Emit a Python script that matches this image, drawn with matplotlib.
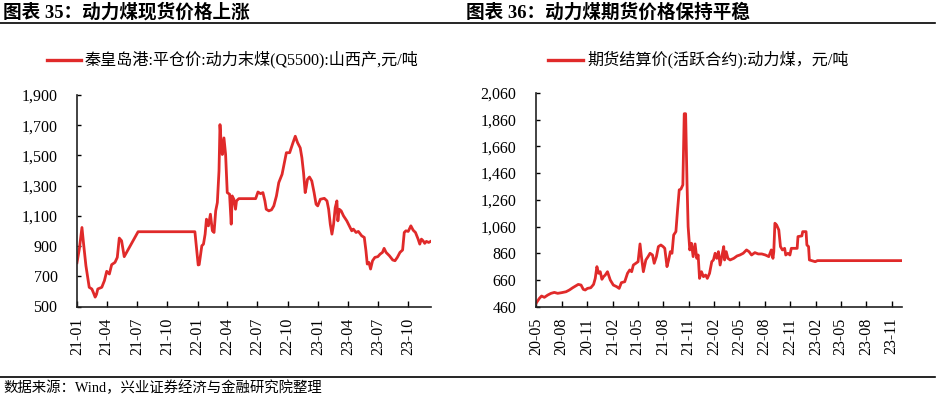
import matplotlib
matplotlib.use('Agg')
import matplotlib.pyplot as plt
import matplotlib.dates as mdates
from matplotlib.lines import Line2D
from matplotlib.ticker import FuncFormatter
import pandas as pd

plt.rcParams['font.family'] = ['Liberation Serif', 'Noto Sans CJK SC']

RED = '#E02A2A'

# spot price, Qinhuangdao Q5500 (left panel)
spot_dates = [
    '2021-01-01', '2021-01-08', '2021-01-16', '2021-01-21', '2021-01-28', '2021-02-02',
    '2021-02-07', '2021-02-15', '2021-02-20', '2021-02-25', '2021-03-01', '2021-03-05',
    '2021-03-17', '2021-03-25', '2021-04-01', '2021-04-09', '2021-04-16', '2021-04-26',
    '2021-05-03', '2021-05-09', '2021-05-16', '2021-05-24', '2021-07-05', '2021-12-24',
    '2022-01-03', '2022-01-06', '2022-01-14', '2022-01-19', '2022-01-24', '2022-01-28',
    '2022-02-03', '2022-02-09', '2022-02-15', '2022-02-20', '2022-02-25', '2022-03-02',
    '2022-03-07', '2022-03-10', '2022-03-14', '2022-03-17', '2022-03-22', '2022-03-27',
    '2022-04-01', '2022-04-08', '2022-04-13', '2022-04-16', '2022-04-21', '2022-04-26',
    '2022-04-29', '2022-05-06', '2022-06-26', '2022-07-03', '2022-07-11', '2022-07-18',
    '2022-07-24', '2022-07-28', '2022-08-05', '2022-08-13', '2022-08-20', '2022-08-28',
    '2022-09-04', '2022-09-14', '2022-09-22', '2022-09-27', '2022-10-07', '2022-10-17',
    '2022-10-24', '2022-10-31', '2022-11-08', '2022-11-13', '2022-11-18', '2022-11-23',
    '2022-11-26', '2022-11-30', '2022-12-06', '2022-12-13', '2022-12-20', '2022-12-26',
    '2022-12-31', '2023-01-08', '2023-01-20', '2023-01-28', '2023-02-02', '2023-02-07',
    '2023-02-12', '2023-02-17', '2023-02-22', '2023-02-27', '2023-03-02', '2023-03-06',
    '2023-03-12', '2023-03-19', '2023-03-29', '2023-04-08', '2023-04-13', '2023-04-18',
    '2023-04-26', '2023-05-03', '2023-05-13', '2023-05-21', '2023-05-26', '2023-05-30',
    '2023-06-04', '2023-06-09', '2023-06-15', '2023-06-22', '2023-07-01', '2023-07-08',
    '2023-07-15', '2023-07-20', '2023-07-26', '2023-08-05', '2023-08-15', '2023-08-22',
    '2023-08-29', '2023-09-06', '2023-09-14', '2023-09-19', '2023-09-24', '2023-10-01',
    '2023-10-09', '2023-10-16', '2023-10-23', '2023-10-31', '2023-11-05', '2023-11-10',
    '2023-11-15', '2023-11-20', '2023-11-25', '2023-12-02', '2023-12-08',
]
spot_price = [
    790, 880, 1023, 913, 770, 700,
    627, 616, 590, 562, 580, 616,
    627, 671, 733, 715, 777, 792,
    825, 953, 935, 830, 995, 995,
    775, 777, 902, 913, 979, 1078,
    1034, 1111, 1001, 990, 1133, 1188,
    1397, 1704, 1572, 1506, 1616, 1506,
    1254, 1243, 1045, 1232, 1210, 1144,
    1199, 1214, 1214, 1258, 1247, 1254,
    1199, 1144, 1133, 1140, 1166, 1232,
    1320, 1375, 1463, 1518, 1518, 1584,
    1627, 1584, 1550, 1485, 1386, 1254,
    1287, 1342, 1357, 1331, 1254, 1177,
    1166, 1210, 1216, 1199, 1144, 1045,
    979, 1045, 1155, 1199, 1067, 1144,
    1133, 1100, 1067, 1023, 1001, 1012,
    990, 997, 968, 957, 869, 781,
    792, 748, 803, 825, 830, 847,
    858, 885, 858, 836, 808, 803,
    825, 858, 874, 990, 1001, 997,
    1034, 1005, 990, 946, 913, 946,
    935, 918, 931, 924, 931,
]

# futures settlement price, active contract (right panel)
fut_dates = [
    '2020-05-01', '2020-05-13', '2020-05-21', '2020-05-31', '2020-06-12', '2020-06-24',
    '2020-07-06', '2020-07-18', '2020-08-01', '2020-08-17', '2020-08-29', '2020-09-10',
    '2020-09-22', '2020-09-30', '2020-10-10', '2020-10-18', '2020-10-25', '2020-11-02',
    '2020-11-14', '2020-11-24', '2020-11-30', '2020-12-06', '2020-12-12', '2020-12-18',
    '2020-12-24', '2020-12-30', '2021-01-05', '2021-01-13', '2021-01-23', '2021-02-03',
    '2021-02-15', '2021-02-24', '2021-03-04', '2021-03-16', '2021-03-26', '2021-04-03',
    '2021-04-10', '2021-04-16', '2021-04-25', '2021-05-03', '2021-05-10', '2021-05-15',
    '2021-05-22', '2021-05-31', '2021-06-08', '2021-06-15', '2021-06-24', '2021-06-30',
    '2021-07-08', '2021-07-15', '2021-07-24', '2021-08-01', '2021-08-07', '2021-08-15',
    '2021-08-21', '2021-08-27', '2021-09-02', '2021-09-08', '2021-09-16', '2021-09-22',
    '2021-09-28', '2021-10-04', '2021-10-11', '2021-10-16', '2021-10-21', '2021-10-26',
    '2021-10-30', '2021-11-05', '2021-11-11', '2021-11-17', '2021-11-24', '2021-11-30',
    '2021-12-05', '2021-12-10', '2021-12-17', '2021-12-24', '2022-01-01', '2022-01-07',
    '2022-01-15', '2022-01-23', '2022-01-29', '2022-02-04', '2022-02-10', '2022-02-16',
    '2022-02-22', '2022-03-01', '2022-03-07', '2022-03-10', '2022-03-16', '2022-03-22',
    '2022-03-30', '2022-04-12', '2022-04-24', '2022-05-04', '2022-05-16', '2022-05-28',
    '2022-06-06', '2022-06-15', '2022-06-27', '2022-07-09', '2022-07-22', '2022-08-04',
    '2022-08-16', '2022-08-25', '2022-08-31', '2022-09-03', '2022-09-07', '2022-09-13',
    '2022-09-21', '2022-09-27', '2022-10-04', '2022-10-12', '2022-10-16', '2022-10-24',
    '2022-10-31', '2022-11-05', '2022-11-26', '2022-11-29', '2022-12-13', '2022-12-16',
    '2022-12-28', '2022-12-31', '2023-01-06', '2023-01-09', '2023-01-30', '2023-02-07',
    '2023-12-08',
]
fut_price = [
    485, 522, 540, 530, 547, 560,
    567, 560, 565, 572, 585, 602,
    617, 627, 622, 590, 585, 597,
    602, 627, 672, 760, 710, 722,
    665, 685, 697, 722, 660, 622,
    610, 597, 640, 647, 710, 735,
    722, 772, 785, 797, 930, 835,
    722, 810, 835, 860, 847, 785,
    835, 910, 922, 910, 897, 760,
    810, 872, 860, 997, 1022, 1185,
    1335, 1340, 1372, 1905, 1905, 1385,
    1060, 885, 935, 835, 930, 822,
    847, 672, 722, 685, 697, 672,
    710, 797, 810, 860, 822, 872,
    772, 847, 910, 810, 872, 822,
    810, 822, 840, 847, 860, 885,
    872, 847, 865, 855, 855, 847,
    835, 885, 822, 872, 1085, 1072,
    1035, 910, 885, 897, 847, 860,
    847, 897, 897, 985, 990, 1022,
    1022, 922, 910, 810, 797, 805,
    805,
]

W, H = 937, 397
fig = plt.figure(figsize=(W / 100, H / 100), dpi=100)


def px_box(x0, y0, x1, y1):
    # pixel box (top-left origin) -> figure fraction rect
    return [x0 / W, 1 - y1 / H, (x1 - x0) / W, (y1 - y0) / H]


def style_axis(ax, ymin, ymax, months):
    for s in ['top', 'right']:
        ax.spines[s].set_visible(False)
    for s in ['left', 'bottom']:
        ax.spines[s].set_linewidth(1.2)
        ax.spines[s].set_color('#222222')
    ax.set_ylim(ymin, ymax)
    ax.set_yticks(range(ymin, ymax + 1, 200))
    ax.yaxis.set_major_formatter(FuncFormatter(lambda v, p: f'{v:,.0f}'))
    ax.xaxis.set_major_locator(mdates.MonthLocator(bymonth=months))
    ax.xaxis.set_major_formatter(mdates.DateFormatter('%y-%m'))
    ax.tick_params(axis='y', direction='in', length=3, width=1, pad=14, labelsize=11.5)
    ax.tick_params(axis='x', direction='in', length=4, width=1, pad=8, labelsize=11.5,
                   labelrotation=90)


# left panel
ax1 = fig.add_axes(px_box(77, 95, 431, 306.5))
ax1.plot(pd.to_datetime(spot_dates), spot_price, color=RED, lw=2.0)
style_axis(ax1, 500, 1900, [1, 4, 7, 10])
ax1.set_xlim(pd.Timestamp('2021-01-01'), pd.Timestamp('2023-12-09'))

# right panel
ax2 = fig.add_axes(px_box(536, 93, 902, 306.7))
ax2.plot(pd.to_datetime(fut_dates), fut_price, color=RED, lw=2.0)
style_axis(ax2, 460, 2060, [2, 5, 8, 11])
ax2.set_xlim(pd.Timestamp('2020-05-01'), pd.Timestamp('2023-12-08'))

# titles and rules
fig.text(3 / W, 1 - 12 / H, '图表 35：动力煤现货价格上涨', fontsize=13.4,
         fontweight='bold', va='center', ha='left')
fig.text(466 / W, 1 - 12 / H, '图表 36：动力煤期货价格保持平稳', fontsize=13.4,
         fontweight='bold', va='center', ha='left')
fig.add_artist(Line2D([0, 935 / W], [1 - 23 / H, 1 - 23 / H], color='black', lw=1.2))
fig.add_artist(Line2D([0, 935 / W], [1 - 377 / H, 1 - 377 / H], color='black', lw=1.2))
fig.text(3 / W, 1 - 388 / H, '数据来源：Wind，兴业证券经济与金融研究院整理', fontsize=10.4,
         va='center', ha='left')

# legends
fig.add_artist(Line2D([47 / W, 81 / W], [1 - 60 / H, 1 - 60 / H], color=RED, lw=2.4))
fig.text(85 / W, 1 - 60 / H, '秦皇岛港:平仓价:动力末煤(Q5500):山西产,元/吨', fontsize=11.6,
         va='center', ha='left')
fig.add_artist(Line2D([548 / W, 583 / W], [1 - 60 / H, 1 - 60 / H], color=RED, lw=2.4))
fig.text(587 / W, 1 - 60 / H, '期货结算价(活跃合约):动力煤，元/吨', fontsize=11.6,
         va='center', ha='left')

fig.savefig('out.png', dpi=100)
